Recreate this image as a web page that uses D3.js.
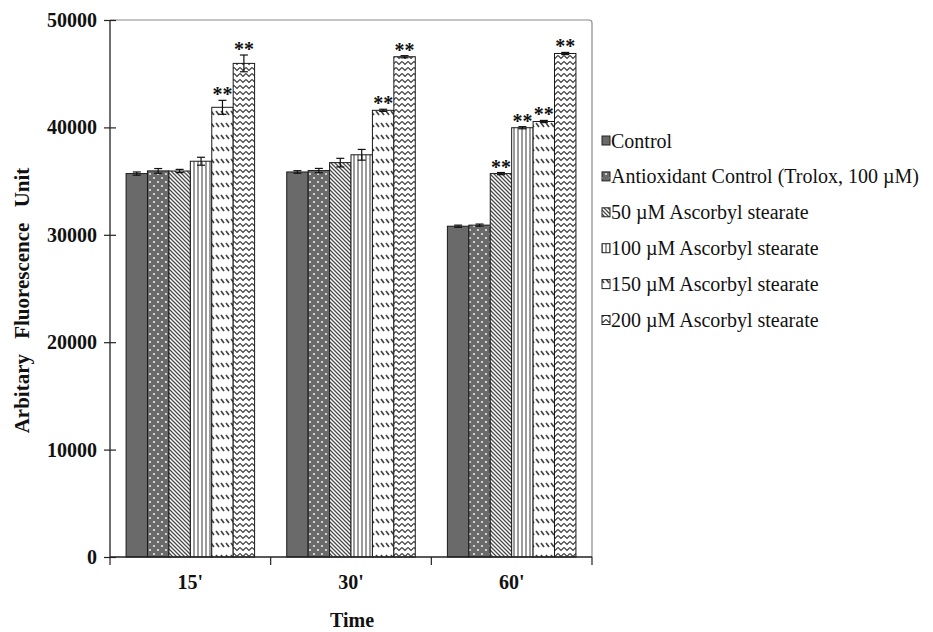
<!DOCTYPE html>
<html><head><meta charset="utf-8">
<script src="https://cdn.jsdelivr.net/npm/d3@7"></script>
<style>
html,body{margin:0;padding:0;background:#fff;}
svg{display:block;}
text{font-family:"Liberation Serif","Times New Roman",serif;fill:#111;}
</style></head>
<body>
<svg id="chart" width="933" height="632"></svg>
<script>
const groups = ["15'", "30'", "60'"];
const series = ["Control", "Antioxidant Control (Trolox, 100 \u00b5M)", "50 \u00b5M Ascorbyl stearate",
  "100 \u00b5M Ascorbyl stearate", "150 \u00b5M Ascorbyl stearate", "200 \u00b5M Ascorbyl stearate"];
const controlVals   = [35700, 35850, 30800];
const troloxVals    = [35950, 35980, 30900];
const as50Vals      = [35940, 36720, 35700];
const as100Vals     = [36850, 37450, 39970];
const as150Vals     = [41870, 41590, 40550];
const as200Vals     = [45960, 46580, 46880];
const controlErr = [150, 120, 100];
const troloxErr  = [220, 200, 100];
const as50Err    = [150, 400, 100];
const as100Err   = [370, 500, 100];
const as150Err   = [650, 100, 100];
const as200Err   = [780, 100, 100];
const signif = [[false,false,false,false,true,true],[false,false,false,false,true,true],[false,false,true,true,true,true]];
const yTicks = [0, 10000, 20000, 30000, 40000, 50000];

const values = [controlVals, troloxVals, as50Vals, as100Vals, as150Vals, as200Vals];
const errs = [controlErr, troloxErr, as50Err, as100Err, as150Err, as200Err];
const patIds = ["p-control", "p-trolox", "p-50", "p-100", "p-150", "p-200"];

const svg = d3.select("#chart");
const defs = svg.append("defs");

function pat(id, w, h) {
  return defs.append("pattern").attr("id", id).attr("patternUnits", "userSpaceOnUse")
    .attr("width", w).attr("height", h);
}
let p;
p = pat("p-control", 4, 4);
p.append("rect").attr("width", 4).attr("height", 4).attr("fill", "#6a6a6a");
p = pat("p-trolox", 8, 8);
p.append("rect").attr("width", 8).attr("height", 8).attr("fill", "#6a6a6a");
p.append("circle").attr("cx", 2).attr("cy", 2).attr("r", 1.1).attr("fill", "#e6e6e6");
p.append("circle").attr("cx", 6).attr("cy", 6).attr("r", 1.1).attr("fill", "#e6e6e6");
p = pat("p-50", 4, 4);
p.append("rect").attr("width", 4).attr("height", 4).attr("fill", "#fff");
p.append("path").attr("d", "M0,0 L4,4 M-1,3 L1,5 M3,-1 L5,1").attr("stroke", "#4a4a4a").attr("stroke-width", 1.3);
p = pat("p-100", 4, 4);
p.append("rect").attr("width", 4).attr("height", 4).attr("fill", "#fff");
p.append("path").attr("d", "M2,0 L2,4").attr("stroke", "#4a4a4a").attr("stroke-width", 1.1);
p = pat("p-150", 5, 12);
p.append("rect").attr("width", 5).attr("height", 12).attr("fill", "#fff");
p.append("path").attr("d", "M1,3 L4,7").attr("stroke", "#444").attr("stroke-width", 1.7);
p = pat("p-200", 6, 6);
p.append("rect").attr("width", 6).attr("height", 6).attr("fill", "#fff");
p.append("path").attr("d", "M0,1.5 L3,4.5 L6,1.5").attr("stroke", "#3a3a3a").attr("stroke-width", 1.2).attr("fill", "none");

const mLeft = 110, mRight = 592, mTop = 20, mBottom = 557;
const x0 = d3.scaleBand().domain(groups).range([mLeft, mRight]).padding(0);
const x1 = d3.scaleBand().domain(d3.range(series.length))
  .range([x0.bandwidth() * 0.1, x0.bandwidth() * 0.9]).padding(0);
const y = d3.scaleLinear().domain([0, 50000]).range([mBottom, mTop]);

svg.append("path")
  .attr("d", `M${mLeft},${mTop} L${mRight - 3},${mTop} Q${mRight},${mTop} ${mRight},${mTop + 3} L${mRight},${mBottom}`)
  .attr("fill", "none").attr("stroke", "#8a8a8a").attr("stroke-width", 1.2);

const gG = svg.append("g");
groups.forEach((g, gi) => {
  series.forEach((s, si) => {
    const v = values[si][gi];
    const bx = x0(g) + x1(si);
    gG.append("rect")
      .attr("x", bx).attr("y", y(v))
      .attr("width", x1.bandwidth()).attr("height", y(0) - y(v))
      .attr("fill", `url(#${patIds[si]})`)
      .attr("stroke", "#1a1a1a").attr("stroke-width", 1);
    const cx = bx + x1.bandwidth() / 2;
    const e = errs[si][gi];
    gG.append("line").attr("x1", cx).attr("x2", cx).attr("y1", y(v - e)).attr("y2", y(v + e))
      .attr("stroke", "#111").attr("stroke-width", 1.2);
    gG.append("line").attr("x1", cx - 4).attr("x2", cx + 4).attr("y1", y(v + e)).attr("y2", y(v + e))
      .attr("stroke", "#111").attr("stroke-width", 1.2);
    gG.append("line").attr("x1", cx - 4).attr("x2", cx + 4).attr("y1", y(v - e)).attr("y2", y(v - e))
      .attr("stroke", "#111").attr("stroke-width", 1.2);
    if (signif[gi][si]) {
      gG.append("text").attr("x", cx).attr("y", y(v + e) + 1)
        .attr("text-anchor", "middle").attr("font-weight", "bold").attr("font-size", 20)
        .text("**");
    }
  });
});

const yAxis = d3.axisLeft(y).tickValues(yTicks).tickSize(6).tickFormat(d3.format("d"));
const yg = svg.append("g").attr("transform", `translate(${mLeft},0)`).call(yAxis);
yg.select(".domain").attr("stroke", "#222").attr("stroke-width", 1.3).attr("d", `M0,${mTop}V${mBottom}`);
yg.selectAll(".tick line").attr("x1", -6).attr("x2", 6).attr("stroke", "#222").attr("stroke-width", 1.2);
yg.selectAll(".tick text").attr("x", -13).attr("font-size", 20).attr("font-weight", "bold")
  .attr("font-family", "Liberation Serif, Times New Roman, serif").attr("fill", "#111");

const xg = svg.append("g").attr("transform", `translate(0,${mBottom})`)
  .call(d3.axisBottom(x0).tickSize(0).tickPadding(18));
xg.select(".domain").attr("stroke", "#222").attr("stroke-width", 1.5).attr("d", `M${mLeft},0H${mRight}`);
xg.selectAll(".tick text").attr("font-size", 20).attr("font-weight", "bold")
  .attr("font-family", "Liberation Serif, Times New Roman, serif").attr("fill", "#111");
const bounds = groups.map(g => x0(g)).concat([mRight]);
xg.selectAll(".bound").data(bounds).enter().append("line").attr("class", "bound")
  .attr("x1", d => d).attr("x2", d => d).attr("y1", 0).attr("y2", 8)
  .attr("stroke", "#222").attr("stroke-width", 1.2);

svg.append("text").attr("x", (mLeft + mRight) / 2 + 1).attr("y", 627)
  .attr("text-anchor", "middle").attr("font-size", 20).attr("font-weight", "bold").text("Time");
svg.append("text").attr("transform", `translate(29,${(mTop + mBottom) / 2 + 12}) rotate(-90)`)
  .attr("text-anchor", "middle").attr("font-size", 21).attr("font-weight", "bold")
  .attr("word-spacing", 10).text("Arbitary Fluorescence Unit");

const lg = svg.append("g");
series.forEach((s, i) => {
  const ly = 140.5 + i * 35.9;
  lg.append("rect").attr("x", 602).attr("y", ly - 4.5).attr("width", 8).attr("height", 9)
    .attr("fill", `url(#${patIds[i]})`).attr("stroke", "#222").attr("stroke-width", 1);
  lg.append("text").attr("x", 611).attr("y", ly).attr("dy", "0.35em")
    .attr("font-size", 20).text(s);
});
</script>
</body></html>
